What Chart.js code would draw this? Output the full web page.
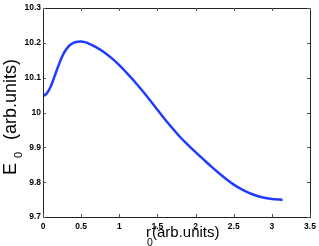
<!DOCTYPE html>
<html>
<head>
<meta charset="utf-8">
<script src="https://cdn.jsdelivr.net/npm/chart.js@4.4.0/dist/chart.umd.min.js"></script>
<style>
html,body{margin:0;padding:0;background:#fff;}
#wrap{width:319px;height:246px;position:relative;}
canvas{display:block;}
</style>
</head>
<body>
<div id="wrap"><canvas id="c" width="319" height="246"></canvas></div>
<script>
// r0 values (arb. units)
const r0 = [0, 0.05, 0.1, 0.15, 0.2, 0.25, 0.3, 0.35, 0.4, 0.45, 0.5, 0.55, 0.6, 0.7, 0.8, 0.9, 1.0,
  1.1, 1.2, 1.3, 1.4, 1.5, 1.6, 1.7, 1.8, 1.9, 2.0, 2.1, 2.2, 2.3, 2.4, 2.5, 2.6, 2.7, 2.8, 2.9, 3.0, 3.1, 3.14];
// E0 values (arb. units)
const E0 = [10.047, 10.055, 10.074, 10.103, 10.133, 10.160, 10.180, 10.193, 10.200, 10.203, 10.204, 10.202, 10.198, 10.187, 10.173, 10.156, 10.136,
  10.113, 10.089, 10.063, 10.036, 10.008, 9.980, 9.954, 9.929, 9.907, 9.886, 9.866, 9.846, 9.827, 9.809, 9.793, 9.780, 9.769, 9.761, 9.755, 9.752, 9.750, 9.749];
const xTicks = [0, 0.5, 1, 1.5, 2, 2.5, 3, 3.5];
const yTicks = [9.7, 9.8, 9.9, 10, 10.1, 10.2, 10.3];
const xTitleMain = 'r', xTitleSub = '0', xTitleRest = '(arb.units)';
const yTitleMain = 'E', yTitleSub = '0', yTitleRest = '(arb.units)';

const points = r0.map((x, i) => ({x: x, y: E0[i]}));
const fmt = v => String(Number(v.toFixed(2)));
const tickFont = {family: '"Liberation Sans", Arial, sans-serif', size: 8.5, weight: 'bold'};

const framePlugin = {
  id: 'frame',
  afterDraw(chart) {
    const ctx = chart.ctx, a = chart.chartArea;
    const xs = chart.scales.x, ys = chart.scales.y;
    ctx.save();
    ctx.strokeStyle = '#222';
    ctx.lineWidth = 1;
    ctx.strokeRect(Math.round(a.left) + 0.5, Math.round(a.top) + 0.5,
      Math.round(a.right - a.left), Math.round(a.bottom - a.top));
    ctx.strokeStyle = '#555';
    const L = 3;
    ctx.beginPath();
    xTicks.forEach(v => {
      const px = Math.round(xs.getPixelForValue(v)) + 0.5;
      ctx.moveTo(px, a.bottom); ctx.lineTo(px, a.bottom - L);
      ctx.moveTo(px, a.top); ctx.lineTo(px, a.top + L);
    });
    yTicks.forEach(v => {
      const py = Math.round(ys.getPixelForValue(v)) + 0.5;
      ctx.moveTo(a.left, py); ctx.lineTo(a.left + L, py);
      ctx.moveTo(a.right, py); ctx.lineTo(a.right - L, py);
    });
    ctx.stroke();

    // x title
    ctx.fillStyle = '#000';
    ctx.textBaseline = 'alphabetic';
    ctx.textAlign = 'left';
    ctx.font = '15px "Liberation Sans", Arial, sans-serif';
    ctx.fillText(xTitleMain, 146, 237);
    ctx.font = '10.5px "Liberation Sans", Arial, sans-serif';
    ctx.fillText(xTitleSub, 147, 246);
    ctx.font = '15px "Liberation Sans", Arial, sans-serif';
    ctx.fillText(xTitleRest, 152, 236.5);

    // y title
    ctx.translate(16, 175);
    ctx.rotate(-Math.PI / 2);
    ctx.font = '18px "Liberation Sans", Arial, sans-serif';
    ctx.fillText(yTitleMain, 0, 0);
    ctx.font = '11px "Liberation Sans", Arial, sans-serif';
    ctx.fillText(yTitleSub, 17, 6);
    ctx.font = '18px "Liberation Sans", Arial, sans-serif';
    ctx.fillText(yTitleRest, 35, 0);
    ctx.restore();
  }
};

new Chart(document.getElementById('c'), {
  type: 'line',
  data: {
    datasets: [{
      data: points,
      borderColor: '#1f3cff',
      borderWidth: 2.5,
      pointRadius: 0,
      fill: false,
      cubicInterpolationMode: 'monotone'
    }]
  },
  options: {
    responsive: false,
    animation: false,
    devicePixelRatio: 1,
    layout: {padding: {top: 8, right: 9, left: 0, bottom: 0}},
    plugins: {legend: {display: false}, tooltip: {enabled: false}},
    scales: {
      x: {
        type: 'linear', min: 0, max: 3.5,
        afterBuildTicks: s => { s.ticks = xTicks.map(v => ({value: v})); },
        afterFit: s => { s.height = 29; s.paddingLeft = 0; s.paddingRight = 0; },
        grid: {display: false, drawTicks: false},
        border: {display: true, color: '#222', width: 1},
        ticks: {color: '#000', font: tickFont, padding: 5, maxRotation: 0, autoSkip: false, callback: v => fmt(v)}
      },
      y: {
        type: 'linear', min: 9.7, max: 10.3,
        afterBuildTicks: s => { s.ticks = yTicks.map(v => ({value: v})); },
        afterFit: s => { s.width = 43; s.paddingTop = 0; s.paddingBottom = 0; },
        grid: {display: false, drawTicks: false},
        border: {display: true, color: '#222', width: 1},
        ticks: {color: '#000', font: tickFont, padding: 2, autoSkip: false, callback: v => fmt(v)}
      }
    }
  },
  plugins: [framePlugin]
});
</script>
</body>
</html>
